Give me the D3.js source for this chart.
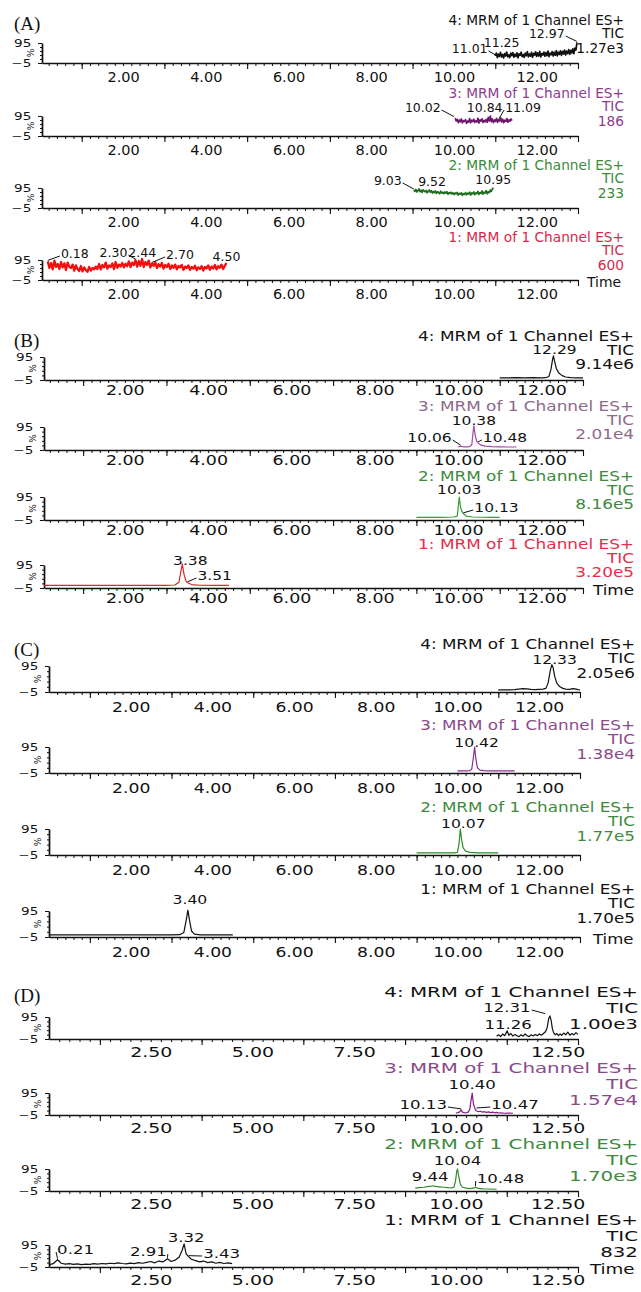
<!DOCTYPE html>
<html>
<head>
<meta charset="utf-8">
<script src="https://cdn.jsdelivr.net/npm/d3@7"></script>
<style>
    body { margin: 0; background: #fff; }
    svg { display: block; font-family: "DejaVu Sans", sans-serif; }
</style>
</head>
<body>
<svg id="chart" width="641" height="1292"></svg>
<script>
//---- chart values ----
var panelTags = ["(A)", "(B)", "(C)", "(D)"];
var channelNames = ["4: MRM of 1 Channel ES+", "3: MRM of 1 Channel ES+", "2: MRM of 1 Channel ES+", "1: MRM of 1 Channel ES+"];
var ticA = ["1.27e3", "186", "233", "600"];
var ticB = ["9.14e6", "2.01e4", "8.16e5", "3.20e5"];
var ticC = ["2.05e6", "1.38e4", "1.77e5", "1.70e5"];
var ticD = ["1.00e3", "1.57e4", "1.70e3", "832"];
var xLabelsABC = [2, 4, 6, 8, 10, 12];
var xLabelsD = [2.5, 5, 7.5, 10, 12.5];
var yLabels = [-5, 95];

//Panel A: noisy scans as [first scan time, scan interval] plus intensities (%).
var a4Scan = [11.0, 0.025];
var a4 = [30,45,22,40,28,48,25,38,20,42,30,50,26,36,22,44,32,47,24,39,
          28,46,21,41,33,49,27,37,23,45,31,52,26,40,29,48,24,43,34,51,
          28,46,30,53,25,42,35,50,29,47,32,55,27,44,36,52,30,49,34,57,
          31,50,38,56,33,53,40,60,35,55,42,62,38,58,45,66,42,70,60,98];
var a3Scan = [10.03, 0.025];
var a3 = [85,70,78,62,75,66,80,60,72,68,77,58,70,64,82,61,74,67,79,63,
          71,65,84,60,76,69,81,62,73,66,78,64,88,70,95,66,80,62,75,68,
          83,63,77,70,86,65,79,61,74,67,82,64,76,69,80,72];
var a2Scan = [9.03, 0.025];
var a2 = [85,78,88,75,82,90,77,84,73,86,80,76,83,71,79,85,74,81,70,78,
          72,80,68,76,74,66,79,70,73,67,75,69,77,64,72,68,74,65,71,62,
          70,66,73,60,68,64,71,58,67,63,72,61,69,65,74,60,70,66,75,62,
          71,67,78,63,72,68,80,64,74,70,82,66,76,72,85,78,90,96];
var a1Scan = [0.18, 0.04];
var a1 = [88,55,80,48,92,60,75,50,85,58,78,45,82,62,
          55,72,42,68,50,40,65,38,58,45,36,60,42,55,48,
          62,50,75,48,70,58,82,52,68,60,78,50,85,56,72,62,80,
          58,76,64,88,60,82,70,95,62,90,66,100,60,85,70,
          92,58,78,66,84,55,74,62,80,52,70,60,76,50,68,
          56,72,48,65,58,70,45,62,55,68,46,60,52,66,44,
          58,50,64,42,60,54,68,46,62,52,70,48,64,56,72,50,66,80];

//Panels B-D: [time, intensity %]
var b4 = [[11.0,4],[11.2,4],[11.4,5],[11.6,4],[11.8,5],[12.0,4],[12.1,5],[12.18,10],[12.23,40],[12.27,85],[12.29,100],[12.32,75],[12.36,45],[12.42,25],[12.5,14],[12.58,8],[12.7,5],[12.85,4],[13.0,4]];
var b3 = [[10.0,8],[10.06,12],[10.12,9],[10.2,9],[10.28,10],[10.33,18],[10.36,70],[10.38,100],[10.41,60],[10.45,32],[10.48,26],[10.55,16],[10.65,12],[10.8,10],[11.0,9],[11.2,8],[11.4,8]];
var b2 = [[9.0,6],[9.3,7],[9.6,6],[9.9,8],[9.98,12],[10.01,60],[10.03,95],[10.06,50],[10.1,30],[10.13,22],[10.2,12],[10.35,8],[10.6,7],[10.8,6],[11.0,6]];
var b1 = [[0.06,6],[0.5,6],[1.0,6],[1.5,6],[2.0,6],[2.5,6],[3.0,6],[3.2,8],[3.3,20],[3.35,70],[3.38,100],[3.42,55],[3.47,25],[3.51,18],[3.6,10],[3.8,7],[4.2,6],[4.5,6]];

var c4 = [[11.0,3],[11.2,3],[11.4,4],[11.5,6],[11.6,8],[11.7,7],[11.8,5],[11.9,4],[12.0,5],[12.1,6],[12.17,10],[12.22,30],[12.27,75],[12.31,100],[12.34,90],[12.38,55],[12.43,30],[12.5,16],[12.58,9],[12.65,6],[12.75,5],[12.82,8],[12.88,7],[12.95,4],[13.0,3]];
var c3 = [[10.0,3],[10.1,3],[10.2,3],[10.3,4],[10.35,10],[10.39,55],[10.42,95],[10.45,50],[10.49,15],[10.55,6],[10.65,4],[10.8,3],[11.0,3],[11.2,3],[11.4,3]];
var c2 = [[9.0,3],[9.3,3],[9.6,3],[9.9,3],[10.0,5],[10.04,40],[10.07,95],[10.1,55],[10.14,22],[10.2,10],[10.3,5],[10.5,3],[10.8,3],[11.0,3]];
var c1 = [[0.0,3],[0.5,3],[1.0,3],[1.5,3],[2.0,3],[2.5,3],[3.0,3],[3.2,4],[3.3,12],[3.36,60],[3.40,98],[3.44,60],[3.49,18],[3.56,6],[3.7,3],[4.0,3],[4.5,3]];

var d4 = [[11.0,8],[11.05,14],[11.1,6],[11.15,18],[11.2,10],[11.26,32],[11.3,12],[11.35,20],[11.4,8],[11.45,16],[11.5,10],[11.55,6],[11.6,14],[11.65,8],[11.7,18],[11.75,10],[11.8,6],[11.85,14],[11.9,9],[11.95,16],[12.0,10],[12.05,18],[12.1,12],[12.15,20],[12.2,28],[12.24,45],[12.28,88],[12.31,100],[12.34,80],[12.37,42],[12.4,24],[12.44,14],[12.48,20],[12.52,10],[12.56,18],[12.6,12],[12.65,22],[12.7,14],[12.75,26],[12.8,12],[12.85,20],[12.9,14],[12.95,24],[13.0,16]];
var d3v = [[10.0,4],[10.05,6],[10.1,10],[10.13,18],[10.16,8],[10.2,6],[10.25,5],[10.3,8],[10.34,20],[10.37,60],[10.40,95],[10.43,45],[10.47,22],[10.5,14],[10.55,10],[10.6,12],[10.65,8],[10.7,10],[10.75,7],[10.8,9],[10.85,6],[10.9,8],[10.95,5],[11.0,7],[11.05,4],[11.1,5],[11.2,3],[11.3,4],[11.4,3]];
var d2 = [[9.0,8],[9.1,10],[9.2,12],[9.3,15],[9.4,17],[9.44,19],[9.5,16],[9.6,14],[9.7,12],[9.8,10],[9.9,9],[9.95,12],[9.99,40],[10.02,85],[10.04,95],[10.07,60],[10.11,25],[10.16,12],[10.25,8],[10.35,6],[10.45,9],[10.48,12],[10.55,7],[10.65,5],[10.8,4],[11.0,3]];
var d1 = [[0.02,6],[0.1,10],[0.21,28],[0.3,12],[0.4,8],[0.5,10],[0.6,7],[0.7,9],[0.8,6],[0.9,8],[1.0,7],[1.1,10],[1.2,8],[1.3,11],[1.4,9],[1.5,12],[1.6,10],[1.7,14],[1.8,11],[1.9,9],[2.0,13],[2.1,10],[2.2,15],[2.3,12],[2.4,16],[2.5,20],[2.6,14],[2.7,22],[2.8,18],[2.91,32],[3.0,20],[3.1,26],[3.2,40],[3.27,70],[3.32,100],[3.37,55],[3.43,42],[3.5,30],[3.6,24],[3.7,18],[3.8,22],[3.9,15],[4.0,18],[4.1,12],[4.2,16],[4.3,11],[4.4,14],[4.5,10]];

//Labelled peak times for each trace.
var peaksA = [[11.01, 11.25, 12.97], [10.02, 10.84, 11.09], [9.03, 9.52, 10.95], [0.18, 2.30, 2.44, 2.70, 4.50]];
var peaksB = [[12.29], [10.38, 10.06, 10.48], [10.03, 10.13], [3.38, 3.51]];
var peaksC = [[12.33], [10.42], [10.07], [3.40]];
var peaksD = [[12.31, 11.26], [10.40, 10.13, 10.47], [10.04, 9.44, 10.48], [0.21, 3.32, 2.91, 3.43]];

//---- layout ----
//Label nudges: [dx from peak, dy from axis baseline, draw leader].
var nudgeA = [[[-26,-14,1],[-4,-20,0],[-30,-29,1]], [[-32,-28,1],[-4,-28,0],[24,-28,1]], [[-26,-27,1],[-2,-26,0],[0,-28,0]], [[27,-26,1],[-22,-27,1],[1,-27,0],[28,-25,1],[0,-23,0]]];
var nudgeB = [[[1,-30,0]], [[0,-29,0],[-31,-12,1],[27,-12,1]], [[0,-30,0],[33,-12,1]], [[8,-27,0],[27,-12,1]]];
var nudgeC = [[[2,-33,0]], [[2,-31,0]], [[3,-32,0]], [[2,-38,0]]];
var nudgeD = [[[-43,-31,1],[1,-14,0]], [[0,-30,0],[-38,-10,1],[40,-10,1]], [[0,-30,0],[-3,-14,0],[25,-12,1]], [[18,-17,1],[2,-29,0],[-19,-15,1],[33,-13,1]]];

var layout = [
    {tagY: 30, bases: [63, 136, 208, 280], axisH: 20, x0: 42, x1: 578, dom: [0.04, 13.0], step: 0.2,
     hdrRight: 624, hdrOff: [-43, -30, -15], fs: 13.2, sx: 1.04, tfs: 13.4, pfs: 12, tickPad: 9, timeX: 587, lw: 1.7,
     lines: ["#111", "#6d1a6d", "#1f6e1f", "#f01010"], heads: ["#111", "#8b3d8b", "#3b8b3b", "#d8284a"]},
    {tagY: 347, bases: [380, 450, 520, 588], axisH: 23, x0: 44, x1: 583, dom: [0.06, 13.0], step: 0.2,
     hdrRight: 634, hdrOff: [-44, -30, -16], fs: 13.3, sx: 1.27, tfs: 13.2, pfs: 12.2, tickPad: 6, timeX: 593, lw: 1.2,
     lines: ["#111", "#a04aa0", "#3a9a3a", "#e82020"], heads: ["#111", "#8c6a8c", "#3d8a3d", "#e0304a"]},
    {tagY: 656, bases: [692, 773, 855, 937], axisH: 26, x0: 49, x1: 580, dom: [0.0, 13.0], step: 0.2,
     hdrRight: 635, hdrOff: [-48, -34, -19], fs: 14, sx: 1.2, tfs: 13.8, pfs: 13, tickPad: 10, timeX: 593, lw: 1.2,
     lines: ["#111", "#8e2f8e", "#2e8b2e", "#111"], heads: ["#111", "#8b4a8b", "#3d8a3d", "#111"]},
    {tagY: 1002, bases: [1039, 1115, 1191, 1267], axisH: 22, x0: 49, x1: 578, dom: [0.0, 13.0], step: 0.25,
     hdrRight: 638, hdrOff: [-47, -31, -15], fs: 14.6, sx: 1.36, tfs: 13.4, pfs: 12.2, tickPad: 8, timeX: 590, lw: 1.2,
     lines: ["#111", "#8a1a8a", "#2e8b2e", "#111"], heads: ["#111", "#8a4a8a", "#3d8a3d", "#111"]}
];

//Turns a scan list into [time, value] pairs.
function scanPoints(scan, values) {
    return values.map(function (v, i) { return [scan[0] + i * scan[1], v]; });
}

var traces = [
    [scanPoints(a4Scan, a4), scanPoints(a3Scan, a3), scanPoints(a2Scan, a2), scanPoints(a1Scan, a1)],
    [b4, b3, b2, b1],
    [c4, c3, c2, c1],
    [d4, d3v, d2, d1]
];
var tics = [ticA, ticB, ticC, ticD];
var peaks = [peaksA, peaksB, peaksC, peaksD];
var nudges = [nudgeA, nudgeB, nudgeC, nudgeD];
var xLabels = [xLabelsABC, xLabelsABC, xLabelsABC, xLabelsD];

var svg = d3.select("#chart");
var fmt2 = d3.format(".2f");

layout.forEach(function (L, p) { drawPanel(L, p); });

//Adds a horizontally stretched text.
function addText(g, x, y, str, fs, sx, anchor, color) {
    return g.append("text")
        .attr("transform", "translate(" + x + "," + y + ") scale(" + sx + ",1)")
        .attr("text-anchor", anchor)
        .style("font-size", fs + "px")
        .attr("fill", color)
        .text(str);
}

function drawPanel(L, p) {
    var x = d3.scaleLinear().domain(L.dom).range([L.x0, L.x1]);

    svg.append("text")
        .attr("x", 14)
        .attr("y", L.tagY)
        .style("font-family", "'Liberation Serif', 'Times New Roman', serif")
        .style("font-size", "19px")
        .attr("fill", "#111")
        .text(panelTags[p]);

    for (var k = 0; k < 4; k++) {
        drawTrace(L, p, k, x);
    }

    addText(svg, L.timeX, L.bases[3] + 2 + 0.36 * L.tfs, "Time", L.tfs, L.sx, "start", "#111");
}

function drawTrace(L, p, k, x) {
    var base = L.bases[k];
    var y = d3.scaleLinear().domain([-5, 95]).range([base, base - L.axisH]);
    var g = svg.append("g");

    //Minor and tall ticks along time.
    var minor = d3.range(L.step, L.dom[1] + 1e-6, L.step).filter(function (t) { return t >= L.dom[0]; });
    var tall = p === 3 ? [1.25, 3.75, 6.25, 8.75, 11.25, 13] : d3.range(1, 13.01, 2);

    var xAxis = g.append("g")
        .attr("transform", "translate(0," + base + ")")
        .call(d3.axisBottom(x).tickValues(minor).tickSize(3).tickSizeOuter(0).tickFormat(""));
    xAxis.select(".domain").attr("stroke", "#111").attr("stroke-width", 1.7);
    xAxis.selectAll(".tick line").attr("stroke", "#111").attr("stroke-width", 1);

    var xTall = g.append("g")
        .attr("transform", "translate(0," + base + ")")
        .call(d3.axisBottom(x).tickValues(tall).tickSize(6).tickSizeOuter(0).tickFormat(""));
    xTall.select(".domain").remove();
    xTall.selectAll(".tick line").attr("stroke", "#111").attr("stroke-width", 1.1);

    var xLab = g.append("g")
        .attr("transform", "translate(0," + base + ")")
        .call(d3.axisBottom(x).tickValues(xLabels[p]).tickSize(0).tickPadding(L.tickPad).tickFormat(fmt2));
    xLab.select(".domain").remove();
    xLab.attr("font-family", null).attr("font-size", null);
    xLab.selectAll("text")
        .attr("transform", "scale(" + (L.sx * 1.04) + ",1)")
        .attr("fill", "#111")
        .style("font-size", L.tfs + "px");

    //Intensity axis.
    var yAxis = g.append("g")
        .attr("transform", "translate(" + L.x0 + ",0)")
        .call(d3.axisLeft(y).tickValues(yLabels).tickSize(4).tickSizeOuter(0).tickPadding(4).tickFormat(d3.format("d")));
    yAxis.select(".domain").attr("stroke", "#111").attr("stroke-width", 1.7);
    yAxis.selectAll(".tick line").attr("stroke", "#111");
    yAxis.attr("font-family", null).attr("font-size", null);
    yAxis.selectAll("text")
        .attr("transform", "scale(1.35,1)")
        .attr("fill", "#111")
        .style("font-size", "10px");

    var yMinor = g.append("g")
        .attr("transform", "translate(" + L.x0 + ",0)")
        .call(d3.axisLeft(y).tickValues([15, 35, 55, 75]).tickSize(2).tickSizeOuter(0).tickFormat(""));
    yMinor.select(".domain").remove();
    yMinor.selectAll(".tick line").attr("stroke", "#111");

    g.append("text")
        .attr("transform", "translate(" + (L.x0 - 8) + "," + (base - L.axisH / 2) + ") rotate(-90)")
        .attr("text-anchor", "middle")
        .style("font-size", "9px")
        .attr("fill", "#111")
        .text("%");

    //Header: channel, TIC, scale.
    var hc = L.heads[k];
    addText(g, L.hdrRight, base + L.hdrOff[0] + 0.36 * L.fs, channelNames[k], L.fs, L.sx, "end", hc);
    addText(g, L.hdrRight, base + L.hdrOff[1] + 0.36 * L.fs, "TIC", L.fs, L.sx, "end", hc);
    addText(g, L.hdrRight, base + L.hdrOff[2] + 0.36 * L.fs, tics[p][k], L.fs, L.sx, "end", hc);

    //Chromatogram trace.
    var pts = traces[p][k];
    var line = d3.line()
        .x(function (d) { return x(d[0]); })
        .y(function (d) { return y(d[1]); });

    g.append("path")
        .datum(pts)
        .attr("d", line)
        .attr("fill", "none")
        .attr("stroke", L.lines[k])
        .attr("stroke-width", (p === 0 && k === 3) ? 2.3 : L.lw)
        .attr("stroke-linejoin", "round");

    //Peak labels with leaders.
    peaks[p][k].forEach(function (t, i) {
        var nd = nudges[p][k][i];
        var near = d3.least(pts, function (d) { return Math.abs(d[0] - t); });
        var px = x(t), py = y(near[1]);
        var lx = px + nd[0], ly = base + nd[1];
        var txt = addText(g, lx, ly + 0.36 * L.pfs, fmt2(t), L.pfs, L.sx, "middle", "#111");
        if (nd[2]) {
            var w = txt.node().getComputedTextLength() * L.sx;
            var sxp = nd[0] < 0 ? lx + w / 2 + 1 : lx - w / 2 - 1;
            var syp = ly + 2;
            var vx = px - sxp, vy = (py - 1) - syp;
            var len = Math.sqrt(vx * vx + vy * vy);
            var f = Math.min(1, 14 / len);
            g.append("line")
                .attr("x1", sxp).attr("y1", syp)
                .attr("x2", sxp + vx * f).attr("y2", syp + vy * f)
                .attr("stroke", "#111")
                .attr("stroke-width", 1);
        }
    });
}
</script>
</body>
</html>
